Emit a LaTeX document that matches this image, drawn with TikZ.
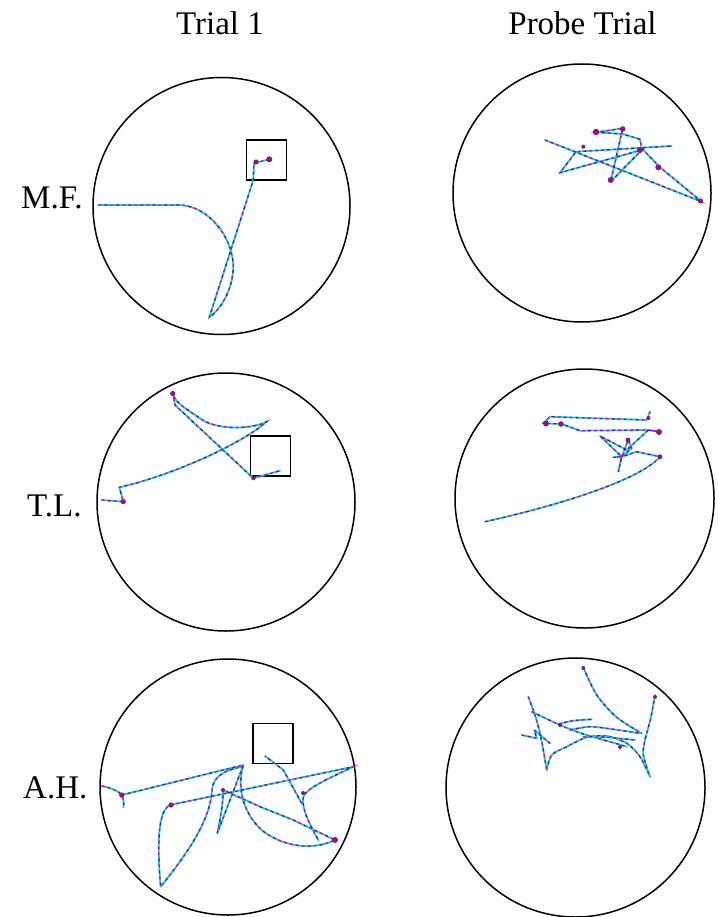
\documentclass[tikz,border=0pt]{standalone}
\usepackage{fontspec}
\setmainfont{Liberation Serif}
\definecolor{trkcyan}{RGB}{25,205,210}
\definecolor{trkmagenta}{RGB}{205,0,200}
\definecolor{trkblue}{RGB}{55,35,165}
\definecolor{blobcol}{RGB}{145,20,125}
\tikzset{
  arena/.style={circle, draw=black, line width=1.5pt, inner sep=0pt, outer sep=0pt},
  platform/.style={rectangle, draw=black, line width=1.5pt, inner sep=0pt, outer sep=0pt, minimum size=40pt},
  coltitle/.style={anchor=base, inner sep=0pt, font=\fontsize{33}{38}\selectfont},
  rowlabel/.style={anchor=base west, inner sep=0pt, font=\fontsize{33}{38}\selectfont},
  trkbase/.style={draw=trkcyan, line width=1.8pt, line join=round, line cap=round},
  trkmag/.style={draw=trkmagenta, line width=1.3pt, dash pattern=on 3pt off 9pt},
  trkblu/.style={draw=trkblue, line width=1.3pt, dash pattern=on 3pt off 9pt, dash phase=6pt},
  blob/.style={fill=blobcol}
}
\newcommand\trk[1]{\draw[trkbase] #1; \draw[trkmag] #1; \draw[trkblu] #1;}
\newcommand\blb[2][2.6pt]{\fill[blob] #2 circle[radius=#1];}
\begin{document}
\begin{tikzpicture}[x=1pt,y=-1pt]
\useasboundingbox (0,0) rectangle (717,917);
\fill[white] (0,0) rectangle (717,917);

% titles and row labels
\node[coltitle] (t1) at (220,35) {Trial 1};
\node[coltitle] (t2) at (582.5,35) {Probe Trial};
\node[rowlabel] (l1) at (21,208) {M.F.};
\node[rowlabel] (l2) at (27,516) {T.L.};
\node[rowlabel] (l3) at (23,798) {A.H.};

% arenas
\node[arena, minimum size=257pt] (c1) at (221.5,206) {};
\node[arena, minimum size=258pt] (c2) at (582,193) {};
\node[arena, minimum size=258pt] (c3) at (226,502) {};
\node[arena, minimum size=259pt] (c4) at (584.5,498.5) {};
\node[arena, minimum size=256pt] (c5) at (228,787) {};
\node[arena, minimum size=259pt] (c6) at (575.5,787.5) {};

% platforms
\node[platform] (p1) at (266.7,160) {};
\node[platform] (p3) at (270.3,456) {};
\node[platform] (p5) at (273,743.3) {};

% ---- M.F. trial 1
\trk{(98.3,205) -- (178.3,205) .. controls (208,205) and (233,237) .. (233.3,266.7) .. controls (233,290) and (220,310) .. (209.3,317.3) -- (253.3,180) -- (254,163.3) -- (269.3,159.3)}
\blb{(256,162)}
\blb[3pt]{(269.3,159.3)}

% ---- M.F. probe
\trk{(545,140) -- (701.7,201.7) -- (660,167.3) -- (641.7,148.3) -- (640,139.3) -- (622.7,134) -- (596.7,132.3) -- (622.7,128.3) -- (610.7,181.7) -- (641.7,150) -- (560,172.7) -- (576,151.7) -- (671.7,146)}
\blb[3.2pt]{(596,132)}
\blb[2.8pt]{(622.7,129)}
\blb[3pt]{(640,150)}
\blb[3pt]{(658.3,167.3)}
\blb[3pt]{(610.7,180)}
\blb[2.6pt]{(700.5,201)}
\blb[2pt]{(583.3,146.7)}

% ---- T.L. trial 1
\trk{(101.7,500) -- (123.3,501.7) -- (119.3,487.3) .. controls (170,476) and (240,445) .. (266.7,421.7) .. controls (250,430) and (215,430) .. (200,418.3) .. controls (185,408) and (174,402) .. (172.7,392.7) -- (175,405) -- (253.3,478.3) -- (280,470.7)}
\blb{(123.3,501.7)}
\blb{(172.7,393.5)}
\blb[2pt]{(253.3,478.3)}

% ---- T.L. probe
\trk{(485,521.7) .. controls (560,505) and (640,480) .. (660,456.7) -- (636.7,451.7) -- (621.7,456.7) -- (613.3,457.3) -- (621.7,456.7) -- (618.3,471.7) -- (621.7,456.7) -- (631.7,448.3) -- (628.3,440) -- (621.7,456.7) -- (600,436) -- (626.7,450) -- (648.3,430) -- (660,431.7) -- (646.7,430) -- (580,430.7) -- (561.7,424) -- (543.3,423.3) -- (550,416.7) -- (646.7,420) -- (650,411.7)}
\blb[3pt]{(546,423.5)}
\blb[2.8pt]{(561,424)}
\blb[3pt]{(659,432)}
\blb[2.4pt]{(660,456.7)}
\blb[2.4pt]{(628,440)}
\blb[2pt]{(648.5,418)}

% ---- A.H. trial 1
\trk{(101.7,786) .. controls (112,788) and (120,792) .. (121.7,795) .. controls (124,800) and (124,804) .. (123.3,807.3)}
\trk{(121.7,795) -- (243.3,765) .. controls (236,790) and (245,815) .. (261.7,830) .. controls (280,845) and (310,852) .. (335,840) -- (293.3,820) -- (260,806.7) -- (223.3,790) .. controls (223,805) and (220,820) .. (217.3,833.3) -- (242.7,766.7) .. controls (225,770) and (213,776) .. (212,790) .. controls (210,820) and (190,850) .. (160.7,886.7) .. controls (158,860) and (158,830) .. (161.7,818) .. controls (163,812) and (166,807) .. (170,805) -- (353.3,766.7) .. controls (330,778) and (306,788) .. (303.3,797) .. controls (301,808) and (310,825) .. (318.3,840)}
\trk{(301.7,803.3) -- (283.3,770) -- (265,756)}
\blb{(121.7,795)}
\blb{(171,805)}
\blb[3pt]{(335,840)}
\blb[2pt]{(303,793)}
\blb[2pt]{(223,790)}

% ---- A.H. probe
\trk{plot[smooth] coordinates {(583.3,667.3) (596.7,695) (616.7,717.3) (641.7,733.3)}}
\trk{plot[smooth] coordinates {(655,695) (650.7,718.3) (645,740) (643.3,755) (650,776.7)}}
\trk{plot[smooth] coordinates {(546.7,770) (551.7,755) (566.7,746.7) (586.7,737.3) (606.7,736) (626.7,743.3) (640,756.7) (650,776.7)}}
\trk{plot[smooth] coordinates {(528.3,696.7) (535,715) (540,733.3) (543.3,750) (546.7,770)}}
\trk{(521.7,735) -- (536.7,738.3) -- (534.3,730) -- (550,743.3)}
\trk{plot[smooth] coordinates {(531.7,711.7) (560,725) (583.3,734) (613.3,742.7) (626.7,746.7)}}
\trk{plot[smooth] coordinates {(558.3,724) (573.3,720.7) (591.7,719.3)}}
\trk{plot[smooth] coordinates {(570,730) (590,726.7) (613.3,729.3) (640,733.3)}}
\trk{plot[smooth] coordinates {(583.3,736.7) (606.7,737.3) (635,740)}}
\blb[2pt]{(583.3,668)}
\blb[2pt]{(655,697)}
\blb[2pt]{(560,725)}
\blb[2pt]{(620,747)}
\end{tikzpicture}
\end{document}
